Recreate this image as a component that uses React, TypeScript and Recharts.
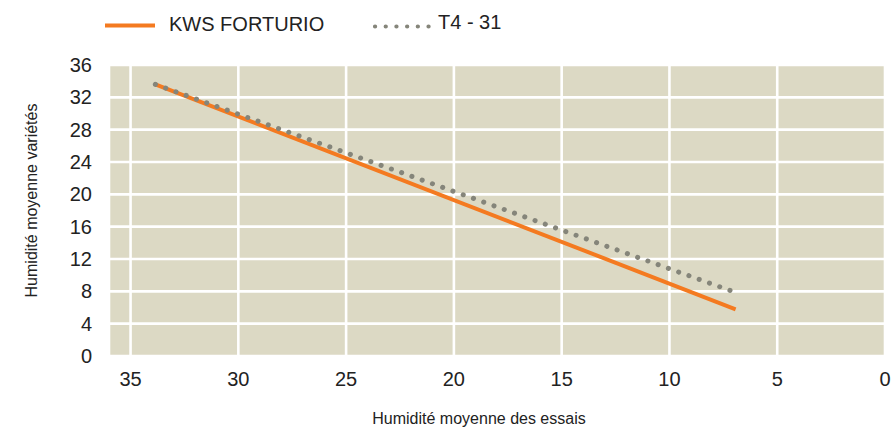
import { LineChart, Line, XAxis, YAxis, CartesianGrid, Label } from 'recharts';

// lecture approximative des extrémités des deux droites
const fortX = [33.85, 6.93];
const fortY = [33.6, 5.78];
const t4X = [33.85, 6.73];
const t4Y = [33.6, 7.67];

const xTicks = [0, 5, 10, 15, 20, 25, 30, 35];
const yTicks = [0, 4, 8, 12, 16, 20, 24, 28, 32, 36];

const seriesNames = ['KWS FORTURIO', 'T4 - 31'];

const font = '"Liberation Sans", Arial, Helvetica, sans-serif';
const orange = '#f47a20';
const grey = '#85857a';

const fortData = fortX.map((x, i) => ({ x, y: fortY[i] }));
const t4Data = t4X.map((x, i) => ({ x, y: t4Y[i] }));

const LegendBar = () => (
  <svg width={894} height={50} style={{ position: 'absolute', left: 0, top: 0 }}>
    <line x1={105} y1={25.5} x2={155} y2={25.5} stroke={orange} strokeWidth={4} />
    <text x={169} y={31} fontSize={20} fontFamily={font} fill="#222">{seriesNames[0]}</text>
    <line x1={375} y1={26.5} x2={429} y2={26.5} stroke={grey} strokeWidth={4.2}
      strokeDasharray="0.1 10.6" strokeLinecap="round" />
    <text x={438} y={28.5} fontSize={20} fontFamily={font} fill="#222">{seriesNames[1]}</text>
  </svg>
);

export default function App() {
  return (
    <div style={{ position: 'absolute', left: 0, top: 0, width: 894, height: 428, background: '#fff' }}>
      <LineChart width={894} height={428} margin={{ top: 65, right: 9, bottom: 0, left: 0 }}>
        <CartesianGrid fill="#dcd9c4" stroke="#ffffff" strokeWidth={2.6} />
        <XAxis
          type="number"
          dataKey="x"
          domain={[0, 36]}
          reversed
          ticks={xTicks}
          allowDataOverflow
          axisLine={false}
          tickLine={false}
          tickSize={0}
          tickMargin={16}
          height={72}
          tick={{ fill: '#222', fontSize: 20, fontFamily: font }}
        >
          <Label
            content={({ viewBox }: any) => (
              <text x={viewBox.x + viewBox.width / 2 - 18} y={424} textAnchor="middle"
                fontSize={16} fontFamily={font} fill="#222">
                Humidité moyenne des essais
              </text>
            )}
          />
        </XAxis>
        <YAxis
          type="number"
          domain={[0, 36]}
          ticks={yTicks}
          allowDataOverflow
          axisLine={false}
          tickLine={false}
          tickSize={0}
          tickMargin={17}
          width={109}
          tick={{ fill: '#222', fontSize: 20, fontFamily: font }}
        >
          <Label
            content={({ viewBox }: any) => {
              const cx = 31;
              const cy = viewBox.y + viewBox.height / 2 - 10;
              return (
                <text x={cx} y={cy} transform={`rotate(-90, ${cx}, ${cy})`} textAnchor="middle"
                  dominantBaseline="central" fontSize={16} fontFamily={font} fill="#222">
                  Humidité moyenne variétés
                </text>
              );
            }}
          />
        </YAxis>
        <Line data={fortData} dataKey="y" name={seriesNames[0]} type="linear" stroke={orange}
          strokeWidth={4} dot={false} isAnimationActive={false} />
        <Line data={t4Data} dataKey="y" name={seriesNames[1]} type="linear" stroke={grey}
          strokeWidth={5} strokeDasharray="0.1 10.8" strokeLinecap="round" dot={false}
          isAnimationActive={false} />
      </LineChart>
      <LegendBar />
    </div>
  );
}
